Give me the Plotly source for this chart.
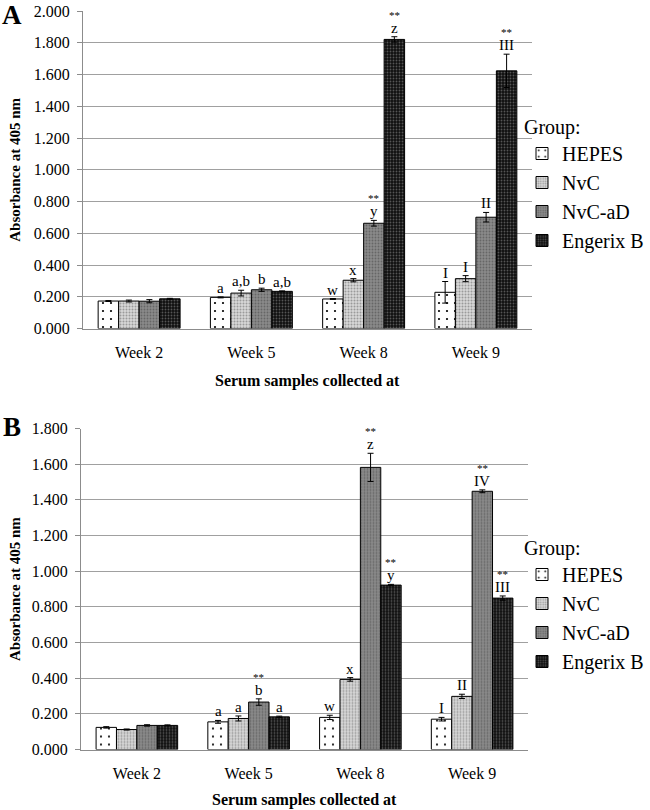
import plotly.graph_objects as go

weeks = ["Week 2", "Week 5", "Week 8", "Week 9"]
groups = ["HEPES", "NvC", "NvC-aD", "Engerix B"]

# Panel A values and SEM
a_vals = {
    "HEPES": [0.173, 0.196, 0.186, 0.228],
    "NvC": [0.173, 0.223, 0.304, 0.314],
    "NvC-aD": [0.172, 0.244, 0.663, 0.701],
    "Engerix B": [0.187, 0.234, 1.821, 1.623],
}
a_errs = {
    "HEPES": [0.003, 0.003, 0.003, 0.068],
    "NvC": [0.006, 0.018, 0.010, 0.019],
    "NvC-aD": [0.010, 0.010, 0.018, 0.030],
    "Engerix B": [0.003, 0.003, 0.017, 0.105],
}
a_labels = {
    "HEPES": ["", "a", "w", "I"],
    "NvC": ["", "a,b", "x", "I"],
    "NvC-aD": ["", "b", "y", "II"],
    "Engerix B": ["", "a,b", "z", "III"],
}
a_stars = {
    "HEPES": ["", "", "", ""],
    "NvC": ["", "", "", ""],
    "NvC-aD": ["", "", "**", ""],
    "Engerix B": ["", "", "**", "**"],
}

# Panel B values and SEM
b_vals = {
    "HEPES": [0.124, 0.155, 0.180, 0.170],
    "NvC": [0.112, 0.174, 0.393, 0.298],
    "NvC-aD": [0.135, 0.266, 1.582, 1.448],
    "Engerix B": [0.135, 0.183, 0.922, 0.849],
}
b_errs = {
    "HEPES": [0.004, 0.008, 0.012, 0.010],
    "NvC": [0.003, 0.014, 0.010, 0.012],
    "NvC-aD": [0.004, 0.018, 0.079, 0.008],
    "Engerix B": [0.003, 0.004, 0.004, 0.012],
}
b_labels = {
    "HEPES": ["", "a", "w", "I"],
    "NvC": ["", "a", "x", "II"],
    "NvC-aD": ["", "b", "z", "IV"],
    "Engerix B": ["", "a", "y", "III"],
}
b_stars = {
    "HEPES": ["", "", "", ""],
    "NvC": ["", "", "", ""],
    "NvC-aD": ["", "**", "**", "**"],
    "Engerix B": ["", "", "**", "**"],
}

y_ticks_a = [0.0, 0.2, 0.4, 0.6, 0.8, 1.0, 1.2, 1.4, 1.6, 1.8, 2.0]
y_ticks_b = [0.0, 0.2, 0.4, 0.6, 0.8, 1.0, 1.2, 1.4, 1.6, 1.8]

styles = {
    "HEPES": dict(bg="#ffffff", fg="#000000", shape=".", size=8, solidity=0.06),
    "NvC": dict(bg="#d8d8d8", fg="#9a9a9a", shape=".", size=3, solidity=0.35),
    "NvC-aD": dict(bg="#8a8a8a", fg="#666666", shape=".", size=3, solidity=0.3),
    "Engerix B": dict(bg="#101010", fg="#555555", shape=".", size=3, solidity=0.3),
}

FONT = "Liberation Serif, Times New Roman, serif"
W, H = 650, 810
BARGAP = 0.27

fig = go.Figure()

def add_panel(vals, errs, xaxis, yaxis, legend):
    for g in groups:
        s = styles[g]
        fig.add_trace(go.Bar(
            x=weeks, y=vals[g], name=g, xaxis=xaxis, yaxis=yaxis, legend=legend,
            marker=dict(color=s["bg"], line=dict(color="#000000", width=1),
                        pattern=dict(shape=s["shape"], bgcolor=s["bg"], fgcolor=s["fg"],
                                     size=s["size"], solidity=s["solidity"], fillmode="replace")),
            error_y=dict(type="data", array=errs[g], visible=True, color="#000000",
                         thickness=1, width=3),
        ))

add_panel(a_vals, a_errs, "x", "y", "legend")
add_panel(b_vals, b_errs, "x2", "y2", "legend2")

annotations = []
bw = (1 - BARGAP) / len(groups)

def add_labels(vals, errs, labels, stars, xref, yref):
    for gi, g in enumerate(groups):
        for wi in range(len(weeks)):
            xpos = wi - (1 - BARGAP) / 2 + (gi + 0.5) * bw
            ytop = vals[g][wi] + errs[g][wi]
            if labels[g][wi]:
                annotations.append(dict(x=xpos, y=ytop, xref=xref, yref=yref, text=labels[g][wi],
                                        showarrow=False, yanchor="bottom", yshift=0, borderpad=0,
                                        font=dict(family=FONT, size=15, color="#000000")))
            if stars[g][wi]:
                annotations.append(dict(x=xpos, y=ytop, xref=xref, yref=yref, text=stars[g][wi],
                                        showarrow=False, yanchor="bottom", yshift=15, borderpad=0,
                                        font=dict(family=FONT, size=11, color="#000000")))

add_labels(a_vals, a_errs, a_labels, a_stars, "x", "y")
add_labels(b_vals, b_errs, b_labels, b_stars, "x2", "y2")

# domains in pixels
ax_l, ax_r, ay_t, ay_b = 83, 532, 11, 328.5
bx_l, bx_r, by_t, by_b = 81, 528, 428.5, 749.5

def px_x(p):
    return p / W

def px_y(p):
    return 1 - p / H

for (txt, yc_px) in [("A", 15), ("B", 427)]:
    annotations.append(dict(x=px_x(12), y=px_y(yc_px), xref="paper", yref="paper", text="<b>%s</b>" % txt,
                            showarrow=False, font=dict(family=FONT, size=27, color="#000000"),
                            xanchor="center", yanchor="middle"))

for (yc, xc) in [((ay_t + ay_b) / 2, 15), ((by_t + by_b) / 2, 15)]:
    annotations.append(dict(x=px_x(xc), y=px_y(yc), xref="paper", yref="paper",
                            text="<b>Absorbance at 405 nm</b>", textangle=-90, showarrow=False,
                            font=dict(family=FONT, size=15, color="#000000"),
                            xanchor="center", yanchor="middle"))

for (yc, xl, xr) in [(ay_b + 52, ax_l, ax_r), (by_b + 50, bx_l, bx_r)]:
    annotations.append(dict(x=px_x((xl + xr) / 2), y=px_y(yc), xref="paper", yref="paper",
                            text="<b>Serum samples collected at</b>", showarrow=False,
                            font=dict(family=FONT, size=16, color="#000000"),
                            xanchor="center", yanchor="middle"))

common_x = dict(type="category", categoryorder="array", categoryarray=weeks,
                showline=True, linecolor="#8c8c8c", linewidth=1, showgrid=False,
                ticks="", ticklabelstandoff=9, automargin=False,
                tickfont=dict(family=FONT, size=16, color="#000000"))
common_y = dict(showline=True, linecolor="#8c8c8c", linewidth=1, showgrid=True,
                gridcolor="#a0a0a0", gridwidth=1, ticks="outside", ticklen=5,
                tickcolor="#8c8c8c", tickformat=".3f", zeroline=False, automargin=False,
                ticklabelstandoff=4,
                tickfont=dict(family=FONT, size=16, color="#000000"))

fig.update_layout(
    width=W, height=H,
    margin=dict(l=0, r=0, t=0, b=0),
    paper_bgcolor="#ffffff", plot_bgcolor="#ffffff",
    barmode="group", bargap=BARGAP, bargroupgap=0,
    xaxis=dict(domain=[px_x(ax_l), px_x(ax_r)], anchor="y", **common_x),
    yaxis=dict(domain=[px_y(ay_b), px_y(ay_t)], anchor="x", range=[0, 2.0],
               tickvals=y_ticks_a, **common_y),
    xaxis2=dict(domain=[px_x(bx_l), px_x(bx_r)], anchor="y2", **common_x),
    yaxis2=dict(domain=[px_y(by_b), px_y(by_t)], anchor="x2", range=[0, 1.8],
                tickvals=y_ticks_b, **common_y),
    legend=dict(x=px_x(522), y=px_y(108), xanchor="left", yanchor="top",
                title=dict(text="Group:", font=dict(family=FONT, size=20, color="#000000")),
                font=dict(family=FONT, size=20, color="#000000"), bgcolor="rgba(0,0,0,0)",
                tracegroupgap=0),
    legend2=dict(x=px_x(522), y=px_y(529), xanchor="left", yanchor="top",
                 title=dict(text="Group:", font=dict(family=FONT, size=20, color="#000000")),
                 font=dict(family=FONT, size=20, color="#000000"), bgcolor="rgba(0,0,0,0)",
                 tracegroupgap=0),
    annotations=annotations,
    showlegend=True,
)

fig.write_html("out.html", config={"displayModeBar": False},
               post_script="document.body.style.margin='0';document.body.style.overflow='hidden';")
